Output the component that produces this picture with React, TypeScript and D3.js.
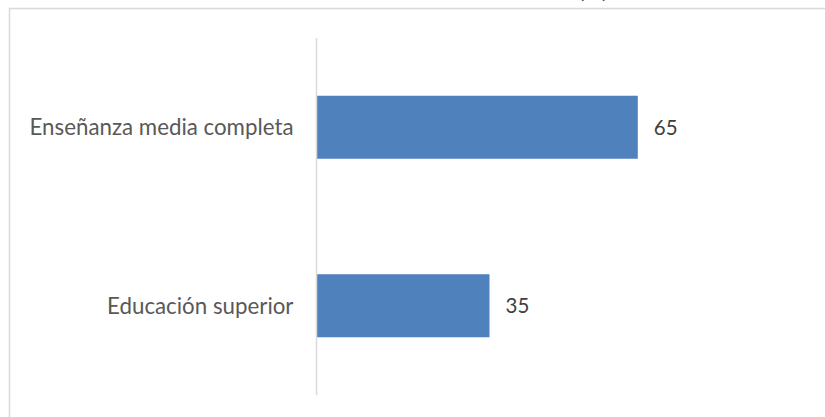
import { useEffect, useRef } from "react";
import * as d3 from "d3";

const categories = ["Enseñanza media completa", "Educación superior"];
const values = [65, 35];
const titleText = "(%)";

const W = 825;
const H = 417;

export default function App() {
  const ref = useRef<SVGSVGElement>(null);

  useEffect(() => {
    if (!ref.current) return;
    const svg = d3.select(ref.current);
    svg.selectAll("*").remove();

    const font = "Lato, 'Open Sans', sans-serif";
    const m = { top: 38, bottom: 395, left: 316.5 };

    // frame of the chart (cut off at the right and bottom)
    svg
      .append("rect")
      .attr("x", 9.5)
      .attr("y", 8.5)
      .attr("width", W + 20)
      .attr("height", H + 20)
      .attr("fill", "#fff")
      .attr("stroke", "#d9d9d9")
      .attr("stroke-width", 1.5);

    // title, only its bottom shows at the top edge
    svg
      .append("text")
      .attr("x", 608)
      .attr("y", -2)
      .attr("text-anchor", "end")
      .attr("font-family", font)
      .attr("font-size", 22)
      .attr("fill", "#404040")
      .text(titleText);

    const x = d3.scaleLinear().domain([0, 70]).range([m.left, m.left + 346]);
    const y = d3
      .scaleBand()
      .domain(categories)
      .range([m.top, m.bottom])
      .paddingInner(0.647)
      .paddingOuter(0.3235);

    svg
      .selectAll(".bar")
      .data(categories)
      .join("rect")
      .attr("class", "bar")
      .attr("x", x(0))
      .attr("y", (d) => y(d)!)
      .attr("width", (_, i) => x(values[i]) - x(0))
      .attr("height", y.bandwidth())
      .attr("fill", "#4f81bd");

    svg
      .append("line")
      .attr("x1", m.left)
      .attr("x2", m.left)
      .attr("y1", m.top)
      .attr("y2", m.bottom)
      .attr("stroke", "#d9d9d9")
      .attr("stroke-width", 1.5);

    categories.forEach((c, i) => {
      const cy = y(c)! + y.bandwidth() / 2;
      svg
        .append("text")
        .attr("x", m.left - 23)
        .attr("y", cy)
        .attr("dy", "0.36em")
        .attr("text-anchor", "end")
        .attr("font-family", font)
        .attr("font-size", 22.3)
        .attr("fill", "#595959")
        .text(c);
      svg
        .append("text")
        .attr("x", x(values[i]) + 16)
        .attr("y", cy)
        .attr("dy", "0.36em")
        .attr("font-family", font)
        .attr("font-size", 20.5)
        .attr("fill", "#404040")
        .text(values[i]);
    });
  }, []);

  return (
    <svg
      ref={ref}
      width={W}
      height={H}
      style={{ position: "absolute", left: 0, top: 0, background: "#fff" }}
    />
  );
}
